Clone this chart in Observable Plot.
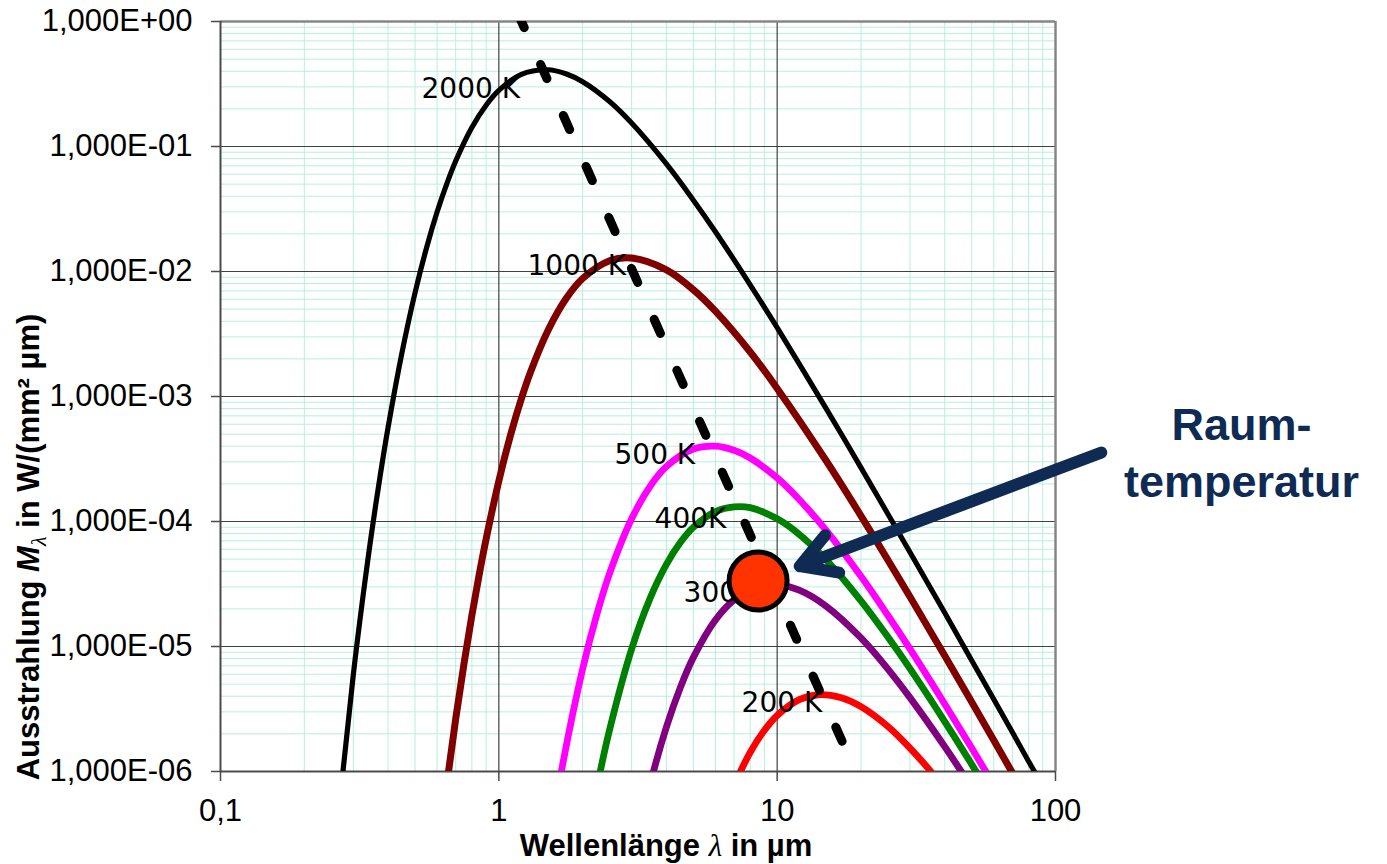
<!DOCTYPE html>
<html>
<head>
<meta charset="utf-8">
<script src="https://cdn.jsdelivr.net/npm/d3@7"></script>
<script src="https://cdn.jsdelivr.net/npm/@observablehq/plot@0.6"></script>
<style>
  html, body { margin: 0; padding: 0; background: #fff; }
  #chart { width: 1387px; height: 864px; }
</style>
</head>
<body>
<div id="chart"></div>
<script>
// ---- Data (wavelength in µm, M in W/(mm² µm)) ----
const lambda2000 = [0.25, 0.3, 0.33, 0.35, 0.375, 0.4, 0.45, 0.5, 0.55, 0.6, 0.65, 0.7, 0.8, 0.9, 1.0, 1.2, 1.5, 1.75, 2, 2.5, 3, 4, 5, 6, 8, 10, 15, 20, 30, 40, 50, 60, 70, 80, 90, 100];
const m2000 = [1.22e-7, 5.93e-6, 3.26e-5, 8.44e-5, 2.35e-4, 5.65e-4, 2.31e-3, 6.76e-3, 0.0155, 0.0299, 0.0503, 0.0766, 0.142, 0.214, 0.281, 0.376, 0.411, 0.380, 0.330, 0.229, 0.154, 0.0725, 0.0372, 0.0208, 7.83e-3, 3.55e-3, 8.01e-4, 2.70e-4, 5.68e-5, 1.86e-5, 7.74e-6, 3.78e-6, 2.06e-6, 1.21e-6, 7.62e-7, 5.02e-7];

const lambda1000 = [0.6, 0.65, 0.7, 0.75, 0.8, 0.85, 0.9, 1.0, 1.1, 1.2, 1.3, 1.5, 1.75, 2, 2.5, 3, 4, 5, 6, 8, 10, 15, 20, 30, 40, 50, 60, 70, 80];
const m1000 = [1.85e-7, 7.86e-7, 2.64e-6, 7.35e-6, 1.77e-5, 3.76e-5, 7.23e-5, 2.11e-4, 4.85e-4, 9.33e-4, 1.57e-3, 3.36e-3, 6.13e-3, 8.79e-3, 0.0122, 0.0128, 0.0103, 7.14e-3, 4.81e-3, 2.27e-3, 1.16e-3, 3.06e-4, 1.11e-4, 2.50e-5, 8.44e-6, 3.59e-6, 1.78e-6, 9.76e-7, 5.80e-7];

const lambda500 = [1.5, 1.7, 2, 2.25, 2.5, 3, 3.5, 4, 5, 6, 7, 8, 10, 12, 15, 20, 25, 30, 40, 50, 60, 70];
const m500 = [2.30e-7, 1.17e-6, 6.60e-6, 1.81e-5, 3.84e-5, 1.05e-4, 1.92e-4, 2.75e-4, 3.80e-4, 4.01e-4, 3.71e-4, 3.22e-4, 2.23e-4, 1.50e-4, 8.48e-5, 3.64e-5, 1.77e-5, 9.57e-6, 3.47e-6, 1.54e-6, 7.82e-7, 4.38e-7];

const lambda400 = [2, 2.3, 2.5, 3, 3.5, 4, 4.5, 5, 6, 7, 8, 10, 12, 15, 20, 25, 30, 40, 50, 60];
const m400 = [1.81e-7, 9.38e-7, 2.16e-6, 9.56e-6, 2.45e-5, 4.54e-5, 6.85e-5, 9.00e-5, 1.20e-4, 1.31e-4, 1.29e-4, 1.05e-4, 7.90e-5, 4.93e-5, 2.32e-5, 1.19e-5, 6.65e-6, 2.51e-6, 1.14e-6, 5.86e-7];

const lambda300 = [3, 3.5, 4, 4.5, 5, 6, 7, 8, 9, 10, 12, 15, 20, 25, 30, 40, 50, 60];
const m300 = [1.76e-7, 7.97e-7, 2.27e-6, 4.77e-6, 8.18e-6, 1.63e-5, 2.36e-5, 2.85e-5, 3.09e-5, 3.12e-5, 2.82e-5, 2.10e-5, 1.17e-5, 6.60e-6, 3.90e-6, 1.58e-6, 7.44e-7, 3.93e-7];

const lambda200 = [6, 7, 8, 9, 10, 12, 14, 17, 20, 25, 30, 35, 40];
const m200 = [2.99e-7, 7.66e-7, 1.42e-6, 2.14e-6, 2.81e-6, 3.76e-6, 4.11e-6, 3.89e-6, 3.30e-6, 2.29e-6, 1.54e-6, 1.05e-6, 7.25e-7];

// Wien displacement line (dashed): start / end
const wienLambda = [1.171, 17.32];
const wienM = [1.159, 1.644e-6];

// Curve labels
const labelText = ["2000 K", "1000 K", "500 K", "400K", "300 K", "200 K"];
const labelLambda = [0.5275, 1.268, 2.604, 3.627, 4.61, 7.45];
const labelM = [0.2466, 9.41e-3, 2.858e-4, 8.95e-5, 2.262e-5, 2.98e-6];

// Annotation: room temperature marker, arrow and text
const markerLambda = [8.54];
const markerM = [3.34e-5];
const arrowFrom = {lambda: 146, M: 3.56e-4};
const arrowTo = {lambda: 12.05, M: 4.39e-5};
const noteText = ["Raum-\ntemperatur"];
const noteLambda = [466];
const noteM = [1.556e-4];

// Ticks
const xTicks = [0.1, 1, 10, 100];
const xTickLabels = ["0,1", "1", "10", "100"];
const yTicks = [1, 1e-1, 1e-2, 1e-3, 1e-4, 1e-5, 1e-6];
const yTickLabels = ["1,000E+00", "1,000E-01", "1,000E-02", "1,000E-03", "1,000E-04", "1,000E-05", "1,000E-06"];
const minorSteps = [2, 3, 4, 5, 6, 7, 8, 9];

// ---- Build tables ----
const series = [
  {name: "2000 K", lambda: lambda2000, m: m2000, color: "#000000", width: 5.2},
  {name: "1000 K", lambda: lambda1000, m: m1000, color: "#800000", width: 7},
  {name: "500 K", lambda: lambda500, m: m500, color: "#ff00ff", width: 6.8},
  {name: "400 K", lambda: lambda400, m: m400, color: "#008000", width: 6.8},
  {name: "300 K", lambda: lambda300, m: m300, color: "#800080", width: 6.8},
  {name: "200 K", lambda: lambda200, m: m200, color: "#ff0000", width: 6.8}
];
const xMinor = xTicks.slice(0, -1).flatMap(d => minorSteps.map(k => k * d));
const yMinor = yTicks.slice(1).flatMap(d => minorSteps.map(k => k * d));
const wien = wienLambda.map((l, i) => ({lambda: l, M: wienM[i]}));
const labels = labelText.map((t, i) => ({text: t, lambda: labelLambda[i], M: labelM[i]}));
const marker = markerLambda.map((l, i) => ({lambda: l, M: markerM[i]}));
const note = noteText.map((t, i) => ({text: t, lambda: noteLambda[i], M: noteM[i]}));

const curveMarks = series.map(s =>
  Plot.line(s.lambda.map((l, i) => ({lambda: l, M: s.m[i]})), {
    x: "lambda", y: "M", stroke: s.color, strokeWidth: s.width,
    curve: "catmull-rom", clip: true, strokeLinejoin: "round"
  })
);

const chart = Plot.plot({
  width: 1387,
  height: 864,
  marginLeft: 220,
  marginRight: 332,
  marginTop: 21,
  marginBottom: 93,
  x: {type: "log", domain: [0.1, 100], axis: null},
  y: {type: "log", domain: [1e-6, 1], axis: null},
  style: {fontFamily: "'Liberation Sans', Arial, sans-serif", fontSize: "31px", background: "#fff", color: "#000", overflow: "visible"},
  marks: [
    Plot.ruleX(xMinor, {stroke: "#b6efdd", strokeWidth: 1}),
    Plot.ruleY(yMinor, {stroke: "#b6efdd", strokeWidth: 1}),
    Plot.ruleX(xTicks.slice(1, -1), {stroke: "#404040", strokeWidth: 1.2}),
    Plot.ruleY(yTicks.slice(1, -1), {stroke: "#404040", strokeWidth: 1.2}),
    Plot.ruleY([1], {stroke: "#868686", strokeWidth: 2.5}),
    Plot.ruleX([100], {stroke: "#868686", strokeWidth: 2.5}),
    Plot.ruleX([0.1], {stroke: "#4a4a4a", strokeWidth: 2}),
    Plot.ruleY([1e-6], {stroke: "#4a4a4a", strokeWidth: 2}),
    Plot.axisX(xTicks, {
      tickSize: 10, tickPadding: 17, stroke: "#4a4a4a", strokeWidth: 1.5,
      tickFormat: d => xTickLabels[xTicks.indexOf(d)], label: null, fontSize: 31
    }),
    Plot.axisY(yTicks, {
      tickSize: 9, tickPadding: 19, stroke: "#4a4a4a", strokeWidth: 1.5,
      tickFormat: d => yTickLabels[yTicks.indexOf(d)], label: null, fontSize: 31
    }),
    ...curveMarks,
    Plot.line(wien, {
      x: "lambda", y: "M", stroke: "#000", strokeWidth: 9,
      strokeDasharray: "15.5,40.3", strokeLinecap: "round", clip: true
    }),
    Plot.text(labels, {
      x: "lambda", y: "M", text: "text", textAnchor: "start", lineAnchor: "bottom",
      fontFamily: "'DejaVu Sans', Verdana, sans-serif", fontSize: 28, fill: "#000"
    }),
    Plot.dot(marker, {x: "lambda", y: "M", r: 29, fill: "#ff3300", stroke: "#000", strokeWidth: 5}),
    Plot.arrow([{}], {
      x1: () => arrowFrom.lambda, y1: () => arrowFrom.M,
      x2: () => arrowTo.lambda, y2: () => arrowTo.M,
      stroke: "#0f2b53", strokeWidth: 12, headAngle: 60, headLength: 5,
      strokeLinecap: "round", strokeLinejoin: "miter"
    }),
    Plot.text(note, {
      x: "lambda", y: "M", text: "text", textAnchor: "middle", lineAnchor: "bottom",
      lineHeight: 1.27, fontSize: 45, fontWeight: "bold", fill: "#0f2b53",
      fontFamily: "'Liberation Sans', Arial, sans-serif"
    })
  ]
});

// Axis titles with mixed styles
const svg = d3.select(chart);
const xt = svg.append("text")
  .attr("x", 666).attr("y", 856)
  .attr("text-anchor", "middle")
  .attr("font-family", "'Liberation Sans', Arial, sans-serif")
  .attr("font-size", 31).attr("font-weight", "bold").attr("fill", "#000");
xt.append("tspan").text("Wellenlänge ");
xt.append("tspan").attr("font-style", "italic").attr("font-weight", "normal")
  .attr("font-family", "'Liberation Serif', serif").text("λ");
xt.append("tspan").text(" in µm");

const yt = svg.append("text")
  .attr("transform", "translate(39,547) rotate(-90)")
  .attr("text-anchor", "middle")
  .attr("font-family", "'Liberation Sans', Arial, sans-serif")
  .attr("font-size", 31).attr("font-weight", "bold").attr("fill", "#000");
yt.append("tspan").text("Ausstrahlung ");
yt.append("tspan").attr("font-style", "italic").text("M");
yt.append("tspan").attr("font-style", "italic").attr("font-weight", "normal")
  .attr("font-family", "'Liberation Serif', serif").attr("font-size", 22).attr("dy", 7).text("λ");
yt.append("tspan").attr("dy", -7).text(" in W/(mm² µm)");

document.getElementById("chart").appendChild(chart);
</script>
</body>
</html>
